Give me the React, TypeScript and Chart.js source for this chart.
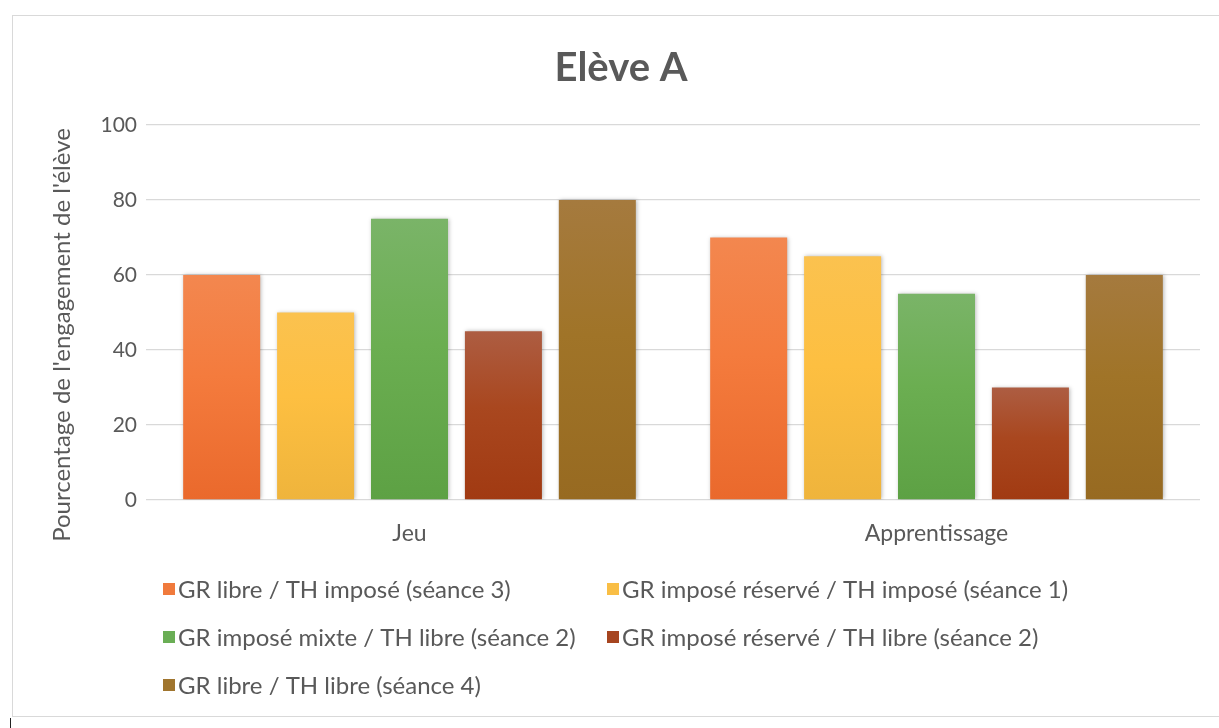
import React, { useEffect, useRef } from "react";
import { Chart, registerables } from "chart.js";

Chart.register(...registerables);

const chartTitle = "Elève A";
const yAxisTitle = "Pourcentage de l'engagement de l'élève";
const categories = ["Jeu", "Apprentissage"];
const seriesLabels = [
  "GR libre / TH imposé (séance 3)",
  "GR imposé réservé / TH imposé (séance 1)",
  "GR imposé mixte / TH libre (séance 2)",
  "GR imposé réservé / TH libre (séance 2)",
  "GR libre / TH libre (séance 4)",
];
const seriesLibreImpose3 = [60, 70];
const seriesReserveImpose1 = [50, 65];
const seriesMixteLibre2 = [75, 55];
const seriesReserveLibre2 = [45, 30];
const seriesLibreLibre4 = [80, 60];
const seriesValues = [
  seriesLibreImpose3,
  seriesReserveImpose1,
  seriesMixteLibre2,
  seriesReserveLibre2,
  seriesLibreLibre4,
];
const seriesTopColors = ["#F3874F", "#FBC24F", "#7AB468", "#AD5D42", "#A57A3E"];
const seriesMidColors = ["#F47B3D", "#FDBF41", "#6BAE51", "#A9471F", "#A07428"];
const seriesBottomColors = ["#EA692C", "#EFB43C", "#5DA144", "#A13A12", "#976A21"];
const seriesSwatchColors = ["#F07A3C", "#F9BE45", "#6AAE55", "#A64520", "#A0752E"];
const yMin = 0;
const yMax = 100;
const yStep = 20;

const TEXT = "#595959";
const FONT = "Lato, 'Open Sans', sans-serif";

const shadowPlugin = {
  id: "barShadow",
  beforeDatasetsDraw(chart: any) {
    const c = chart.ctx;
    c.save();
    c.shadowColor = "rgba(0,0,0,0.28)";
    c.shadowBlur = 4;
    c.shadowOffsetX = 1;
    c.shadowOffsetY = 0;
  },
  afterDatasetsDraw(chart: any) {
    chart.ctx.restore();
  },
};

const yTitlePlugin = {
  id: "yTitle",
  afterDraw(chart: any) {
    const c = chart.ctx;
    c.save();
    c.translate(62, 335);
    c.rotate(-Math.PI / 2);
    c.font = `24px ${FONT}`;
    c.fillStyle = TEXT;
    c.textAlign = "center";
    c.textBaseline = "middle";
    c.fillText(yAxisTitle, 0, 0);
    c.restore();
  },
};

const gridLegendPlugin = {
  id: "gridLegend",
  afterDraw(chart: any) {
    const c = chart.ctx;
    const colX = [163, 607];
    const rowY = [589, 637, 685];
    c.save();
    c.font = `24px ${FONT}`;
    c.textBaseline = "middle";
    c.textAlign = "left";
    chart.data.datasets.forEach((ds: any, i: number) => {
      const x = colX[i % 2];
      const y = rowY[Math.floor(i / 2)];
      c.fillStyle = ds.swatch;
      c.fillRect(x, y - 6, 12, 12);
      c.fillStyle = TEXT;
      c.fillText(ds.label, x + 15, y + 1);
    });
    c.restore();
  },
};

export default function App() {
  const canvasRef = useRef<HTMLCanvasElement | null>(null);

  useEffect(() => {
    const canvas = canvasRef.current;
    if (!canvas) return;
    const datasets = seriesValues.map((vals, i) => ({
      label: seriesLabels[i],
      data: vals,
      swatch: seriesSwatchColors[i],
      borderWidth: 0,
      backgroundColor: (ctx: any) => {
        const top = seriesTopColors[i];
        const mid = seriesMidColors[i];
        const bottom = seriesBottomColors[i];
        const chart = ctx.chart;
        const y = chart.scales && chart.scales.y;
        if (!y || ctx.type !== "data") return mid;
        const yTop = y.getPixelForValue(ctx.raw);
        const yBot = y.getPixelForValue(0);
        if (!isFinite(yTop) || !isFinite(yBot) || yTop === yBot) return mid;
        const g = chart.ctx.createLinearGradient(0, yTop, 0, yBot);
        g.addColorStop(0, top);
        g.addColorStop(0.45, mid);
        g.addColorStop(1, bottom);
        return g;
      },
      categoryPercentage: 0.891,
      barPercentage: 0.82,
    }));

    const chart = new Chart(canvas, {
      type: "bar",
      data: { labels: categories, datasets: datasets as any },
      options: {
        responsive: false,
        animation: false,
        devicePixelRatio: 1,
        layout: { padding: { left: 42, right: 19, top: 0, bottom: 168 } },
        plugins: {
          legend: { display: false },
          tooltip: { enabled: false },
          title: {
            display: true,
            text: chartTitle,
            color: TEXT,
            font: { family: FONT, size: 40, weight: "bold", lineHeight: 1.2 },
            padding: { top: 44, bottom: 33 },
          },
        },
        scales: {
          x: {
            grid: { display: false, drawTicks: false },
            border: { display: false },
            ticks: {
              color: TEXT,
              font: { family: FONT, size: 23 },
              padding: 20,
            },
            afterFit(scale: any) {
              scale.height = 60;
            },
          },
          y: {
            min: yMin,
            max: yMax,
            ticks: {
              stepSize: yStep,
              color: TEXT,
              font: { family: FONT, size: 21 },
              padding: 9,
            },
            grid: { color: "#D9D9D9", lineWidth: 1.3, drawTicks: false },
            border: { display: false },
            title: { display: false },
            afterFit(scale: any) {
              scale.width = 104;
            },
          },
        },
      },
      plugins: [shadowPlugin, yTitlePlugin, gridLegendPlugin],
    } as any);

    return () => chart.destroy();
  }, []);

  return (
    <div
      style={{
        position: "fixed",
        left: 0,
        top: 0,
        width: 1219,
        height: 728,
        background: "#ffffff",
        overflow: "hidden",
      }}
    >
      <div
        style={{
          position: "absolute",
          left: 12,
          top: 15,
          width: 1219 - 12,
          height: 702,
          borderTop: "1px solid #D9D9D9",
          borderLeft: "1px solid #D9D9D9",
          borderBottom: "1px solid #D9D9D9",
          boxSizing: "border-box",
        }}
      />
      <div
        style={{
          position: "absolute",
          left: 10,
          top: 718,
          width: 1,
          height: 10,
          background: "#222",
        }}
      />
      <canvas
        ref={canvasRef}
        width={1219}
        height={728}
        style={{ position: "absolute", left: 0, top: 0, width: 1219, height: 728 }}
      />
    </div>
  );
}
